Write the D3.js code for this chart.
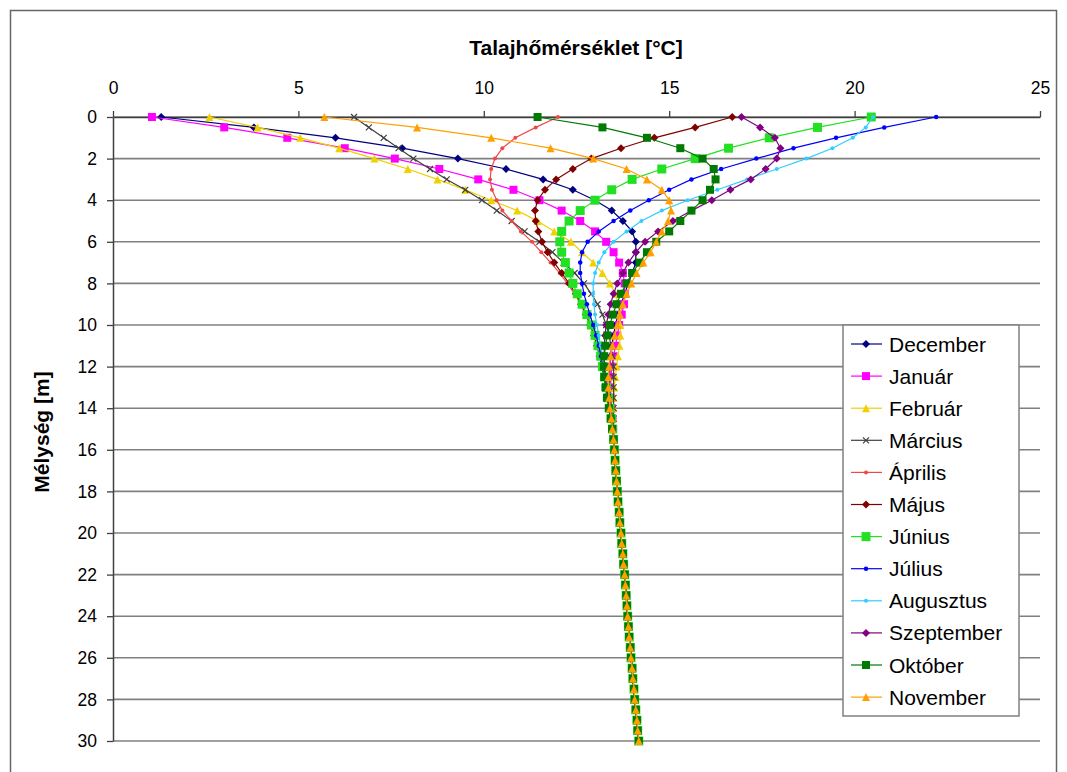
<!DOCTYPE html>
<html>
<head>
<meta charset="utf-8">
<script src="https://cdn.jsdelivr.net/npm/d3@7"></script>
<style>
  body { margin: 0; background: #fff; }
  svg text { font-family: "Liberation Sans", Arial, sans-serif; fill: #000; }
</style>
</head>
<body>
<div id="chart"></div>
<script>

// depth of every sample point [m]
var depths = [0, 0.5, 1, 1.5, 2, 2.5, 3, 3.5, 4, 4.5,
              5, 5.5, 6, 6.5, 7, 7.5, 8, 8.5, 9, 9.5,
              10, 10.5, 11, 11.5, 12, 12.5, 13, 13.5, 14, 14.5,
              15, 15.5, 16, 16.5, 17, 17.5, 18, 18.5, 19, 19.5,
              20, 20.5, 21, 21.5, 22, 22.5, 23, 23.5, 24, 24.5,
              25, 25.5, 26, 26.5, 27, 27.5, 28, 28.5, 29, 29.5, 30];

var months = ["December", "Január", "Február", "Március", "Április", "Május",
              "Június", "Július", "Augusztus", "Szeptember", "Október", "November"];

// soil temperature [°C], 0 .. 15.5 m
var december   = [1.3, 3.8, 6.0, 7.8, 9.3, 10.6, 11.6, 12.4, 13.0, 13.45,
                  13.75, 14.0, 14.1, 14.1, 14.1, 14.0, 13.9, 13.8, 13.7, 13.62,
                  13.55, 13.5, 13.45, 13.42, 13.4, 13.4, 13.4, 13.42, 13.45, 13.47,
                  13.49, 13.5];
var januar     = [1.05, 3.0, 4.7, 6.25, 7.6, 8.8, 9.85, 10.8, 11.5, 12.1,
                  12.6, 13.0, 13.3, 13.5, 13.65, 13.75, 13.8, 13.8, 13.78, 13.72,
                  13.65, 13.6, 13.55, 13.5, 13.45, 13.43, 13.42, 13.43, 13.45, 13.47,
                  13.49, 13.5];
var februar    = [2.6, 3.9, 5.05, 6.1, 7.05, 7.95, 8.75, 9.5, 10.2, 10.9,
                  11.45, 11.9, 12.35, 12.65, 12.95, 13.2, 13.4, 13.55, 13.62, 13.66,
                  13.68, 13.68, 13.66, 13.62, 13.58, 13.55, 13.52, 13.5, 13.5, 13.5,
                  13.5, 13.51];
var marcius    = [6.5, 6.9, 7.3, 7.7, 8.1, 8.55, 9.0, 9.5, 9.95, 10.35,
                  10.75, 11.1, 11.5, 11.85, 12.15, 12.45, 12.7, 12.9, 13.07, 13.2,
                  13.3, 13.38, 13.43, 13.47, 13.5, 13.5, 13.5, 13.5, 13.5, 13.5,
                  13.5, 13.51];
var aprilis    = [12.0, 11.4, 10.85, 10.5, 10.3, 10.2, 10.17, 10.22, 10.35, 10.5,
                  10.75, 11.0, 11.3, 11.55, 11.8, 12.05, 12.25, 12.45, 12.62, 12.77,
                  12.9, 13.0, 13.1, 13.18, 13.25, 13.3, 13.35, 13.4, 13.43, 13.46,
                  13.48, 13.5];
var majus      = [16.7, 15.7, 14.6, 13.7, 12.9, 12.4, 11.95, 11.65, 11.45, 11.38,
                  11.4, 11.47, 11.57, 11.72, 11.9, 12.1, 12.3, 12.48, 12.62, 12.75,
                  12.87, 12.97, 13.05, 13.12, 13.18, 13.24, 13.3, 13.35, 13.4, 13.44,
                  13.47, 13.5];
var junius     = [20.45, 19.0, 17.7, 16.6, 15.7, 14.8, 14.0, 13.45, 13.0, 12.6,
                  12.3, 12.1, 12.05, 12.1, 12.2, 12.3, 12.4, 12.52, 12.65, 12.78,
                  12.9, 13.0, 13.08, 13.15, 13.2, 13.26, 13.31, 13.36, 13.4, 13.44,
                  13.47, 13.5];
var julius     = [22.2, 20.8, 19.5, 18.35, 17.35, 16.4, 15.6, 15.0, 14.45, 13.95,
                  13.5, 13.1, 12.8, 12.65, 12.6, 12.6, 12.65, 12.7, 12.78, 12.86,
                  12.95, 13.03, 13.1, 13.16, 13.22, 13.27, 13.32, 13.36, 13.4, 13.44,
                  13.47, 13.5];
var augusztus  = [20.5, 20.3, 19.95, 19.4, 18.7, 17.9, 17.1, 16.3, 15.5, 14.8,
                  14.25, 13.85, 13.5, 13.25, 13.1, 13.0, 12.95, 12.95, 12.97, 13.0,
                  13.05, 13.1, 13.15, 13.2, 13.24, 13.28, 13.32, 13.36, 13.4, 13.44,
                  13.47, 13.5];
var szeptember = [16.95, 17.45, 17.85, 18.0, 17.9, 17.6, 17.2, 16.65, 16.15, 15.6,
                  15.1, 14.7, 14.35, 14.1, 13.9, 13.75, 13.6, 13.5, 13.42, 13.36,
                  13.3, 13.27, 13.25, 13.25, 13.26, 13.28, 13.31, 13.35, 13.39, 13.43,
                  13.47, 13.5];
var oktober    = [11.45, 13.2, 14.4, 15.3, 15.9, 16.2, 16.25, 16.1, 15.9, 15.6,
                  15.3, 15.0, 14.65, 14.4, 14.2, 14.0, 13.85, 13.7, 13.58, 13.48,
                  13.4, 13.33, 13.28, 13.25, 13.24, 13.25, 13.28, 13.32, 13.37, 13.42,
                  13.46, 13.5];
var november   = [5.7, 8.2, 10.2, 11.8, 12.95, 13.85, 14.4, 14.8, 15.0, 15.05,
                  14.97, 14.8, 14.65, 14.5, 14.3, 14.12, 13.98, 13.85, 13.75, 13.67,
                  13.6, 13.53, 13.47, 13.42, 13.38, 13.36, 13.36, 13.38, 13.4, 13.44,
                  13.47, 13.5];

// 16 .. 30 m, where every month reads the same
var deepTail = [13.52, 13.54, 13.56, 13.58, 13.6, 13.62, 13.65, 13.67, 13.7, 13.72,
                13.75, 13.77, 13.8, 13.82, 13.84, 13.86, 13.88, 13.9, 13.92, 13.95,
                13.97, 14.0, 14.02, 14.05, 14.07, 14.1, 14.13, 14.15, 14.18];

var tempTicks = [0, 5, 10, 15, 20, 25];
var depthTicks = [0, 2, 4, 6, 8, 10, 12, 14, 16, 18, 20, 22, 24, 26, 28, 30];

var monthValues = [december, januar, februar, marcius, aprilis, majus,
                   junius, julius, augusztus, szeptember, oktober, november];

// colour / marker per month
var styles = [
  {color: "#000080", marker: "diamond",  size: 8},
  {color: "#ff00ff", marker: "square",   size: 8},
  {color: "#f0d000", marker: "triangle", size: 8},
  {color: "#404040", marker: "x",        size: 6},
  {color: "#f04848", marker: "circle",   size: 4},
  {color: "#800000", marker: "diamond",  size: 8},
  {color: "#22e022", marker: "square",   size: 9},
  {color: "#0000ff", marker: "circle",   size: 4.5},
  {color: "#33ccff", marker: "circle",   size: 4},
  {color: "#800080", marker: "diamond",  size: 8},
  {color: "#007a00", marker: "square",   size: 8},
  {color: "#ffa000", marker: "triangle", size: 8}
];

var series = months.map(function(m, i){
  var vals = monthValues[i].concat(deepTail);
  return {
    name: m,
    style: styles[i],
    points: depths.map(function(d, j){ return {depth: d, temp: vals[j]}; })
  };
});

function markerPath(type, s){
  var h = s / 2;
  if (type == "diamond") return "M0," + (-h) + "L" + h + ",0L0," + h + "L" + (-h) + ",0Z";
  if (type == "square") return "M" + (-h) + "," + (-h) + "h" + s + "v" + s + "h" + (-s) + "Z";
  if (type == "triangle") return "M0," + (-h) + "L" + h + "," + h + "L" + (-h) + "," + h + "Z";
  if (type == "x") return "M" + (-h) + "," + (-h) + "L" + h + "," + h + "M" + h + "," + (-h) + "L" + (-h) + "," + h;
  return d3.symbol(d3.symbolCircle, Math.PI * h * h)();
}

function drawMarker(sel, st){
  sel.attr("d", markerPath(st.marker, st.size));
  if (st.marker == "x") {
    sel.attr("fill", "none").attr("stroke", st.color).attr("stroke-width", 1.2);
  } else {
    sel.attr("fill", st.color).attr("stroke", "none");
  }
}

var W = 1067, H = 772;
var svg = d3.select("#chart").append("svg")
    .attr("width", W).attr("height", H);

// outer chart frame
svg.append("rect")
    .attr("x", 10.5).attr("y", 10.5)
    .attr("width", 1046).attr("height", 790)
    .attr("fill", "#fff").attr("stroke", "#666").attr("stroke-width", 1.5);

var x = d3.scaleLinear().domain([0, 25]).range([113, 1040]);
var y = d3.scaleLinear().domain([0, 30]).range([117, 741]);

// horizontal gridlines
svg.append("g").selectAll("line")
    .data(depthTicks)
  .enter().append("line")
    .attr("x1", x(0)).attr("x2", x(25))
    .attr("y1", function(d){ return y(d); })
    .attr("y2", function(d){ return y(d); })
    .attr("stroke", "#808080").attr("stroke-width", 1.6);

// axes
var xAxis = d3.axisTop(x).tickValues(tempTicks).tickSize(6).tickSizeOuter(0).tickPadding(17);
var gx = svg.append("g").attr("transform", "translate(0," + y(0) + ")").call(xAxis);

var yAxis = d3.axisLeft(y).tickValues(depthTicks).tickSize(6).tickSizeOuter(0).tickPadding(10);
var gy = svg.append("g").attr("transform", "translate(" + x(0) + ",0)").call(yAxis);

[gx, gy].forEach(function(g){
  g.select(".domain").attr("stroke", "#404040").attr("stroke-width", 1.5);
  g.selectAll(".tick line").attr("stroke", "#404040").attr("stroke-width", 1.3);
  g.selectAll(".tick text").attr("font-size", 17.5).attr("fill", "#000")
    .style("font-family", "'Liberation Sans', Arial, sans-serif");
});

// axis titles
svg.append("text")
    .attr("x", 576).attr("y", 55)
    .attr("text-anchor", "middle")
    .attr("font-size", 21).attr("font-weight", "bold")
    .text("Talajhőmérséklet [°C]");

svg.append("text")
    .attr("transform", "translate(49,432) rotate(-90)")
    .attr("text-anchor", "middle")
    .attr("font-size", 21).attr("font-weight", "bold")
    .text("Mélység [m]");

// lines + markers
var line = d3.line()
    .x(function(d){ return x(d.temp); })
    .y(function(d){ return y(d.depth); });

var gs = svg.append("g").selectAll("g.series")
    .data(series)
  .enter().append("g").attr("class", "series");

gs.append("path")
    .attr("fill", "none")
    .attr("stroke", function(d){ return d.style.color; })
    .attr("stroke-width", 1.2)
    .attr("d", function(d){ return line(d.points); });

gs.each(function(s){
  d3.select(this).selectAll("path.mk")
      .data(s.points)
    .enter().append("path")
      .attr("class", "mk")
      .attr("transform", function(d){ return "translate(" + x(d.temp) + "," + y(d.depth) + ")"; })
      .call(drawMarker, s.style);
});

// legend
var lg = svg.append("g").attr("transform", "translate(843,325)");
lg.append("rect")
    .attr("width", 176).attr("height", 391)
    .attr("fill", "#fff").attr("stroke", "#808080").attr("stroke-width", 1.5);

var li = lg.selectAll("g.item")
    .data(series)
  .enter().append("g")
    .attr("class", "item")
    .attr("transform", function(d, i){ return "translate(0," + (19 + i * 32.1) + ")"; });

li.append("line")
    .attr("x1", 8).attr("x2", 39)
    .attr("stroke", function(d){ return d.style.color; })
    .attr("stroke-width", 1.2);

li.append("path")
    .attr("transform", "translate(23,0)")
    .each(function(d){ d3.select(this).call(drawMarker, d.style); });

li.append("text")
    .attr("x", 46).attr("dy", "0.36em")
    .attr("font-size", 21)
    .text(function(d){ return d.name; });

</script>
</body>
</html>
